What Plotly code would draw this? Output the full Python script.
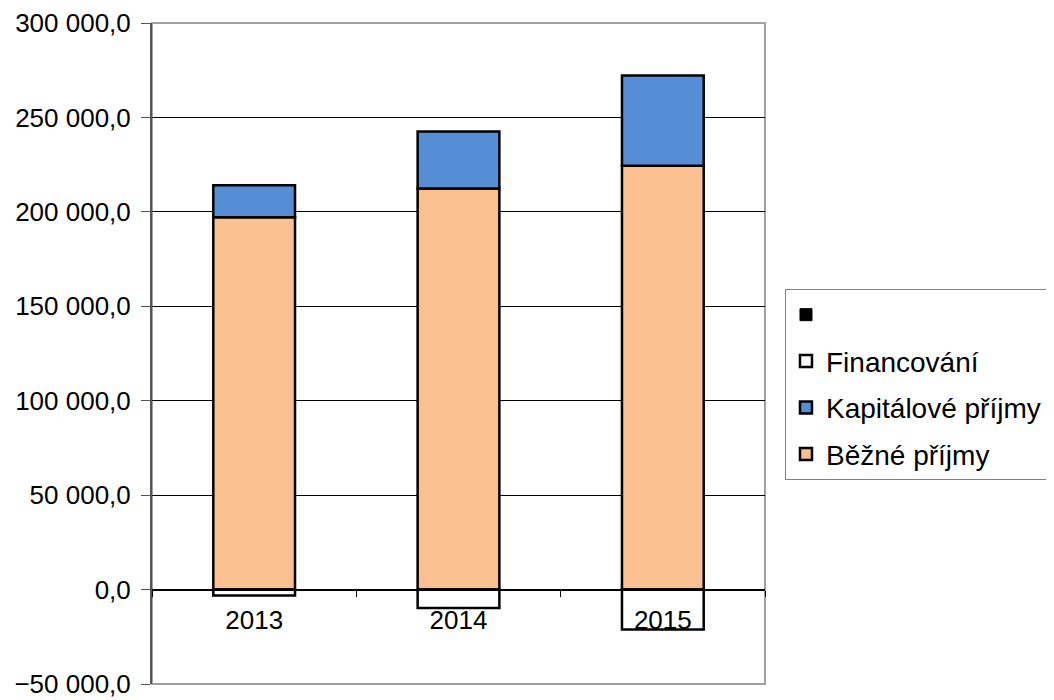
import plotly.graph_objects as go

# Data
years = ["2013", "2014", "2015"]
bezne_prijmy = [197100, 212400, 224400]
kapitalove_prijmy = [17000, 30100, 47800]
financovani = [-3200, -9800, -21200]
prazdna_rada = [0, 0, 0]

y_ticks = [-50000, 0, 50000, 100000, 150000, 200000, 250000, 300000]

FONT = "Liberation Sans, Arial, sans-serif"
outline = {"color": "black", "width": 2.5}

fig = go.Figure()

fig.add_trace(go.Bar(
    x=years, y=bezne_prijmy, name="Běžné příjmy",
    marker={"color": "#FAC08F", "line": outline},
    legendgroup="a", legendrank=4,
))
fig.add_trace(go.Bar(
    x=years, y=kapitalove_prijmy, name="Kapitálové příjmy",
    marker={"color": "#558ED5", "line": outline},
    legendgroup="b", legendrank=3,
))
fig.add_trace(go.Bar(
    x=years, y=financovani, name="Financování",
    marker={"color": "white", "line": outline},
    legendgroup="c", legendrank=2,
))
fig.add_trace(go.Bar(
    x=years, y=prazdna_rada, name=" ",
    marker={"color": "black", "line": {"color": "black", "width": 1}},
    legendgroup="d", legendrank=1,
))

# stránka má 8px okraj, proto je obrázek o 8px menší
fig.update_layout(
    width=1046,
    height=692,
    barmode="relative",
    bargap=0.6,
    separators=", ",
    paper_bgcolor="white",
    plot_bgcolor="white",
    font={"family": FONT, "size": 26, "color": "black"},
    margin={"l": 144, "r": 289, "t": 15, "b": 16, "autoexpand": False},
    showlegend=True,
    legend={
        "x": 1.0326, "y": 0.5976, "xanchor": "left", "yanchor": "top",
        "traceorder": "grouped", "tracegroupgap": 7,
        "bordercolor": "#808080", "borderwidth": 1,
        "font": {"family": FONT, "size": 28, "color": "black"},
        "itemwidth": 30,
    },
    shapes=[{
        "type": "rect", "xref": "paper", "yref": "paper",
        "x0": 0, "x1": 1, "y0": 0, "y1": 1,
        "line": {"color": "#A0A0A0", "width": 2}, "layer": "below",
    }],
)

fig.update_yaxes(
    range=[-50000, 300000],
    tickvals=y_ticks,
    tickformat=",.1f",
    automargin=False,
    showgrid=True, gridcolor="black", gridwidth=1,
    zeroline=False,
    showline=True, linecolor="#555555", linewidth=2,
    ticks="outside", ticklen=9, tickcolor="#555555",
    ticklabelstandoff=5,
    tickfont={"size": 26},
)

fig.update_xaxes(
    type="category",
    anchor="free", position=50000 / 350000,
    automargin=False,
    showline=True, linecolor="black", linewidth=1,
    ticks="outside", tickson="boundaries", ticklen=6, tickcolor="black",
    ticklabelstandoff=7,
    showgrid=False,
    tickfont={"size": 26},
)

fig.write_html("out.html")
